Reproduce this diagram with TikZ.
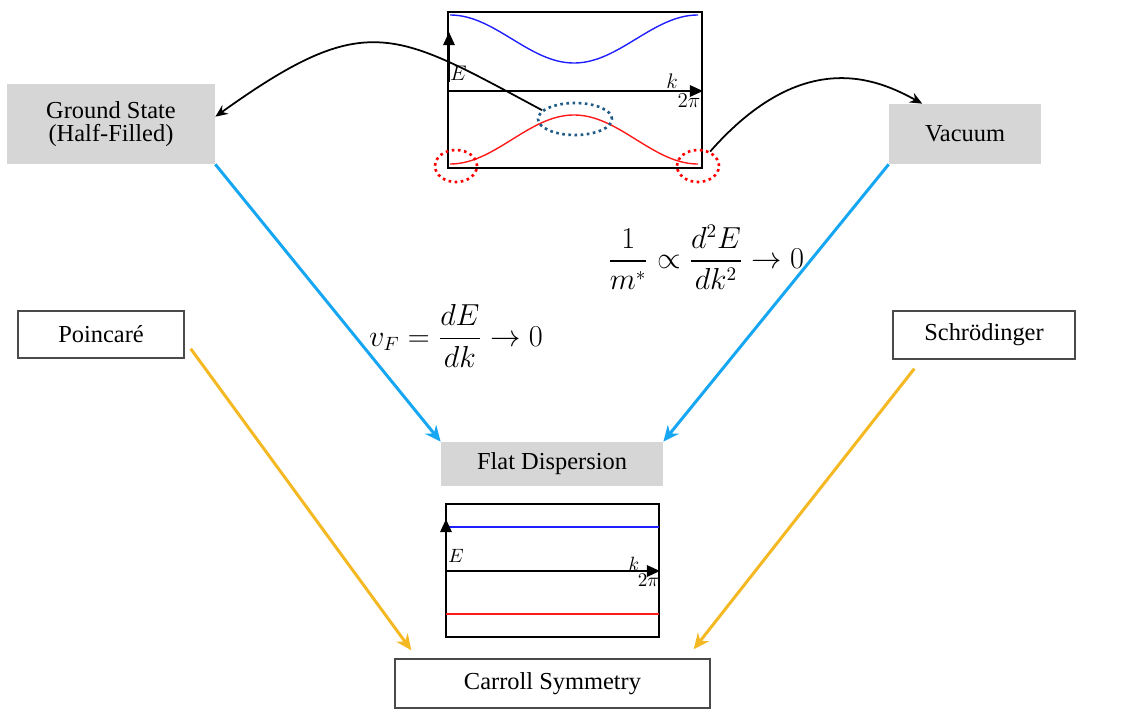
\documentclass[tikz,border=0pt]{standalone}
\usepackage{amsmath}
\usepackage{fontspec}
\setmainfont{Liberation Serif}
\usetikzlibrary{arrows.meta,shapes.geometric,calc}
\definecolor{boxgray}{HTML}{D6D6D6}
\definecolor{boxedge}{HTML}{4A4A4A}
\definecolor{arrowblue}{HTML}{16A6F2}
\definecolor{arrowyellow}{HTML}{F4B822}
\definecolor{ellblue}{HTML}{1E5B86}
\definecolor{curveblue}{HTML}{2020FF}
\definecolor{curvered}{HTML}{FF1A1A}
\tikzset{
  graybox/.style={fill=boxgray, draw=none, inner sep=0pt, align=center, font=\fontsize{13.9}{12.8}\selectfont},
  whitebox/.style={draw=boxedge, line width=0.8pt, fill=white, inner sep=0pt, align=center, font=\fontsize{13.9}{12.8}\selectfont},
  plotframe/.style={draw=black, line width=1.4pt, inner sep=0pt},
  blueconn/.style={arrowblue, line width=1.7pt, -{Stealth[length=9pt,width=8pt]}},
  yellowconn/.style={arrowyellow, line width=1.7pt, -{Stealth[length=9pt,width=8pt]}},
  blackconn/.style={black, line width=1pt, -{Stealth[length=7pt,width=6pt]}},
  plotaxis/.style={black, line width=1.2pt, -{Triangle[length=7.5pt,width=6.5pt]}},
  dotell/.style={ellipse, line width=1.5pt, dash pattern=on 1.5pt off 2pt, inner sep=0pt},
  biglbl/.style={font=\fontsize{12.5}{14}\selectfont, inner sep=0pt},
  smalllbl/.style={font=\fontsize{11}{13}\selectfont, inner sep=0pt},
  eqn/.style={font=\fontsize{16}{19}\selectfont, inner sep=0pt}
}
\begin{document}
\begin{tikzpicture}[x=0.02cm,y=-0.02cm]
\useasboundingbox (0,0) rectangle (1122,713);

% boxes
\node[graybox, minimum width=4.16cm, minimum height=1.6cm] (gs) at (111,124) {Ground State\\(Half-Filled)};
\node[graybox, minimum width=3.04cm, minimum height=1.2cm] (vac) at (965,134) {Vacuum};
\node[whitebox, minimum width=3.32cm, minimum height=0.94cm] (poin) at (101,334.5) {Poincaré};
\node[whitebox, minimum width=3.64cm, minimum height=0.96cm] (schr) at (984,335) {Schrödinger};
\node[graybox, minimum width=4.44cm, minimum height=0.88cm] (flat) at (552,464) {Flat Dispersion};
\node[whitebox, minimum width=6.3cm, minimum height=0.98cm] (carroll) at (552.5,683.5) {Carroll Symmetry};

% top plot
\node[plotframe, minimum width=5.08cm, minimum height=3.12cm] (topplot) at (575,90) {};
\draw[curveblue, line width=0.8pt] plot[domain=450:698, samples=120, smooth] (\x,{39-24*cos(1.4516129*(\x-450))});
\draw[curvered, line width=0.8pt] plot[domain=450:698, samples=120, smooth] (\x,{139.5+24.5*cos(1.4516129*(\x-450))});
\draw[plotaxis] (449,82) -- (449,32);
\draw[plotaxis] (449,91) -- (703,91);
\node[biglbl] (tE) at (458.5,73.5) {$E$};
\node[biglbl] (tk) at (672,81.5) {$k$};
\node[biglbl] (t2pi) at (689,100.5) {$2\pi$};
\node[dotell, draw=ellblue, minimum width=1.48cm, minimum height=0.64cm] (be) at (575,119) {};
\node[dotell, draw=red, minimum width=0.84cm, minimum height=0.64cm] (rl) at (456,166) {};
\node[dotell, draw=red, minimum width=0.84cm, minimum height=0.64cm] (rr) at (698,166) {};

% bottom plot
\node[plotframe, minimum width=4.26cm, minimum height=2.66cm] (botplot) at (552.5,570.5) {};
\draw[curveblue, line width=0.7pt] (446,527) -- (659,527);
\draw[curvered, line width=0.7pt] (446,614) -- (659,614);
\draw[plotaxis] (446,563) -- (446,519);
\draw[plotaxis] (446,571) -- (660,571);
\node[smalllbl] (bE) at (456,556) {$E$};
\node[smalllbl] (bk) at (634,563.5) {$k$};
\node[smalllbl] (b2pi) at (648.5,580) {$2\pi$};

% equations
\node[eqn] (eq1) at (456,336) {$v_F = \dfrac{dE}{dk} \to 0$};
\node[eqn] (eq2) at (706,257) {$\dfrac{1}{m^*} \propto \dfrac{d^2E}{dk^2} \to 0$};

% connectors
\draw[blackconn] (be.165) .. controls (394,31) and (367,8) .. (gs.4);
\draw[blackconn] (rr.50) .. controls (804,45) and (879,80) .. ($(vac.north west)!0.22!(vac.north east)$);
\draw[blueconn] (gs.south east) -- (flat.north west);
\draw[blueconn] (vac.south west) -- (flat.north east);
\draw[yellowconn] ($(poin.south east)+(6,-10)$) -- ($(carroll.north west)+(17,-8)$);
\draw[yellowconn] ($(schr.south west)+(22,9)$) -- ($(carroll.north east)+(-17,-9)$);
\end{tikzpicture}
\end{document}
